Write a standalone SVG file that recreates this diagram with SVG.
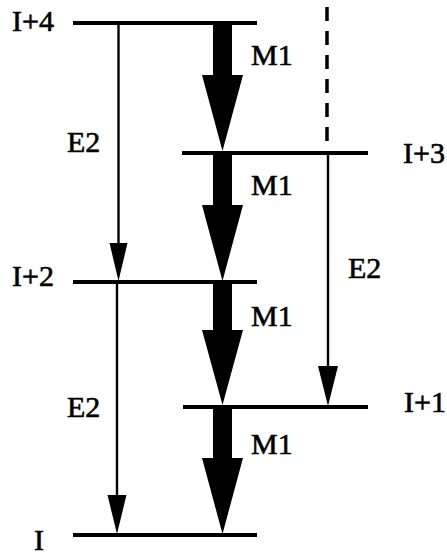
<svg xmlns="http://www.w3.org/2000/svg" width="447" height="555" viewBox="0 0 447 555">
  <style>
    .lvl { stroke: #000; stroke-width: 3.8; fill: none; }
    .lbl { font-family: "Liberation Serif", "Times New Roman", serif; font-size: 30px; fill: #000; stroke: #000; stroke-width: 0.6; }
    .thin { stroke: #000; stroke-width: 2.4; fill: none; }
    .dash { stroke: #000; stroke-width: 3.5; fill: none; stroke-dasharray: 14 10; }
    .head { fill: #000; stroke: none; }
    .big { fill: #000; stroke: none; }
  </style>
  <rect width="447" height="555" fill="#fff"/>

  <g id="level-I4">
    <line class="lvl" x1="73" y1="23" x2="257" y2="23"/>
    <text class="lbl" x="12" y="31">I+4</text>
  </g>
  <g id="level-I3">
    <line class="lvl" x1="182" y1="153" x2="368" y2="153"/>
    <text class="lbl" x="403" y="163">I+3</text>
  </g>
  <g id="level-I2">
    <line class="lvl" x1="73" y1="282" x2="257" y2="282"/>
    <text class="lbl" x="12" y="286">I+2</text>
  </g>
  <g id="level-I1">
    <line class="lvl" x1="183" y1="407" x2="368" y2="407"/>
    <text class="lbl" x="404" y="412">I+1</text>
  </g>
  <g id="level-I0">
    <line class="lvl" x1="73" y1="535" x2="257" y2="535"/>
    <text class="lbl" x="34" y="550">I</text>
  </g>

  <g id="connectors">
    <!-- M1 thick arrows -->
    <polygon class="big" points="213,23 232,23 232,75 243,75 222.5,151 202,75 213,75"/>
    <polygon class="big" points="213,153 232,153 232,205 243,205 222.5,281 202,205 213,205"/>
    <polygon class="big" points="213,282 232,282 232,330 243,330 222.5,405 202,330 213,330"/>
    <polygon class="big" points="213,407 232,407 232,458 243,458 222.5,534 202,458 213,458"/>
    <text class="lbl" x="251" y="65">M1</text>
    <text class="lbl" x="251" y="195">M1</text>
    <text class="lbl" x="251" y="326">M1</text>
    <text class="lbl" x="251" y="454">M1</text>

    <!-- E2 thin arrows -->
    <line class="thin" x1="118.5" y1="23" x2="118.5" y2="250"/>
    <polygon class="head" points="109.5,243 127.5,243 118.5,281"/>
    <text class="lbl" x="67" y="152">E2</text>

    <line class="thin" x1="117" y1="282" x2="117" y2="500"/>
    <polygon class="head" points="107.5,495 126.5,495 117,534"/>
    <text class="lbl" x="67" y="417">E2</text>

    <line class="thin" x1="328" y1="153" x2="328" y2="370"/>
    <polygon class="head" points="318,366 338,366 328,406"/>
    <text class="lbl" x="348" y="278">E2</text>

    <!-- dashed feeding line -->
    <line class="dash" x1="327" y1="7" x2="327" y2="143"/>
  </g>
</svg>
